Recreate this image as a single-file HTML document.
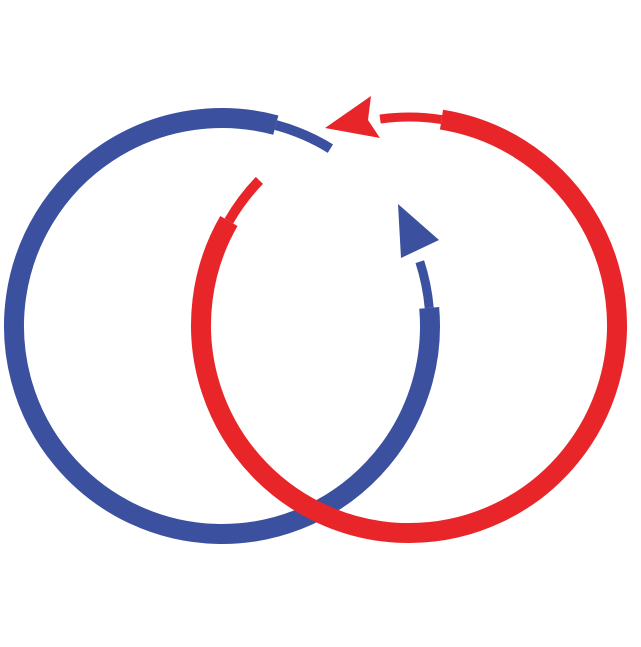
<!DOCTYPE html>
<html><head><style>html,body{margin:0;padding:0;background:#fff}</style></head>
<body>
<svg width="641" height="642" viewBox="0 0 641 642" xmlns="http://www.w3.org/2000/svg">
<g fill="none">
<!-- blue -->
<path d="M 275.8 125.1 A 208 208 0 1 0 429.2 307.9" stroke="#3c50a0" stroke-width="20"/>
<path d="M 330.4 148.6 A 208 208 0 0 0 275.8 125.1" stroke="#3c50a0" stroke-width="10"/>
<path d="M 429.2 307.9 A 208 208 0 0 0 419.8 261.7" stroke="#3c50a0" stroke-width="9"/>
<!-- red -->
<path d="M 441.5 119.6 A 208 208 0 1 1 228.9 221" stroke="#e8262a" stroke-width="20"/>
<path d="M 380.1 119.1 A 208 208 0 0 1 441.5 119.6" stroke="#e8262a" stroke-width="9"/>
<path d="M 228.9 221 A 208 208 0 0 1 259.4 180.4" stroke="#e8262a" stroke-width="10"/>
</g>
<polygon points="398,204 439,240 401,258" fill="#3c50a0"/>
<polygon points="371,96 325,128 380,138 368,120" fill="#e8262a"/>
</svg>
</body></html>
